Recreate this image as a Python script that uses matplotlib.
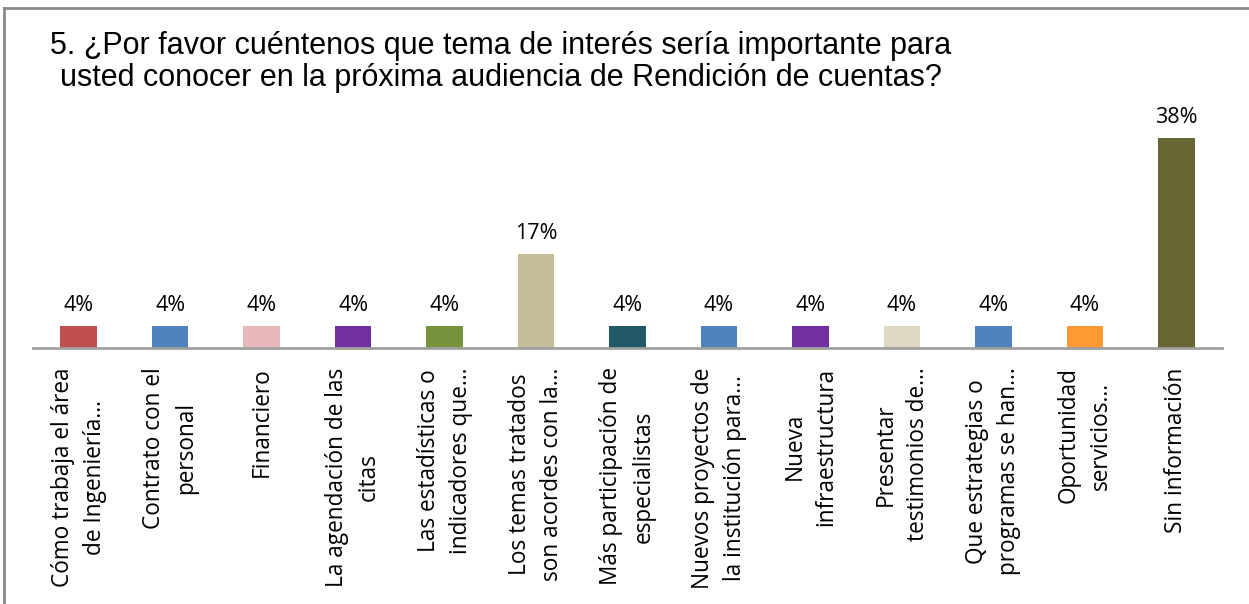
import matplotlib.pyplot as plt
from matplotlib.lines import Line2D

categorias = [
    "Cómo trabaja el área\nde Ingeniería...",
    "Contrato con el\npersonal",
    "Financiero",
    "La agendación de las\ncitas",
    "Las estadísticas o\nindicadores que...",
    "Los temas tratados\nson acordes con la...",
    "Más participación de\nespecialistas",
    "Nuevos proyectos de\nla institución para...",
    "Nueva\ninfraestructura",
    "Presentar\ntestimonios de...",
    "Que estrategias o\nprogramas se han...",
    "Oportunidad\nservicios...",
    "Sin información",
]
porcentajes = [4, 4, 4, 4, 4, 17, 4, 4, 4, 4, 4, 4, 38]
colores = ["#C0504D", "#4F81BD", "#E6B9B8", "#7030A0", "#77933C", "#C4BD97",
           "#215968", "#4F81BD", "#7030A0", "#DDD9C3", "#4F81BD", "#FF9933",
           "#676733"]

titulo = ("5. ¿Por favor cuéntenos que tema de interés sería importante para\n"
          "usted conocer en la próxima audiencia de Rendición de cuentas?")

W, H = 1249, 604
fig = plt.figure(figsize=(W / 100, H / 100), dpi=100)
fig.set_facecolor('white')

# eje en pixeles: x 33..1222, base en y=348, 5.53 px por punto
x0, x1 = 33, 1222
y_base = 348
ymax = 40
alto = ymax * 5.53
ax = fig.add_axes([x0 / W, (H - y_base) / H, (x1 - x0) / W, alto / H])

pos = range(len(categorias))
barras = ax.bar(pos, porcentajes, width=0.4, color=colores)
for b, v in zip(barras, porcentajes):
    ax.annotate("%d%%" % v, (b.get_x() + b.get_width() / 2, v),
                xytext=(0, 7), textcoords='offset points', ha='center', va='bottom',
                fontsize=15.5, family='Open Sans', color='#000000')

ax.set_xlim(-0.5, len(categorias) - 0.5)
ax.set_ylim(0, ymax)
ax.set_yticks([])
ax.set_xticks(list(pos))
ax.set_xticklabels(categorias, rotation=90, ha='center', va='top',
                   multialignment='center', fontsize=16.3, family='Open Sans',
                   linespacing=1.45)
ax.tick_params(axis='x', length=0, pad=14)
for s in ['top', 'right', 'left']:
    ax.spines[s].set_visible(False)
ax.spines['bottom'].set_color('#A0A0A0')
ax.spines['bottom'].set_linewidth(2)
ax.patch.set_alpha(0)

fig.text(501 / W, 1 - 62 / H, titulo, ha='center', va='center', fontsize=22,
         family='Liberation Sans', linespacing=1.08)

# marco del grafico (izquierda y arriba)
fig.add_artist(Line2D([4 / W, 4 / W], [0, 1 - 8 / H], color='#888888', lw=2))
fig.add_artist(Line2D([4 / W, 1], [1 - 8 / H, 1 - 8 / H], color='#888888', lw=2))

fig.savefig('out.png', dpi=100)
